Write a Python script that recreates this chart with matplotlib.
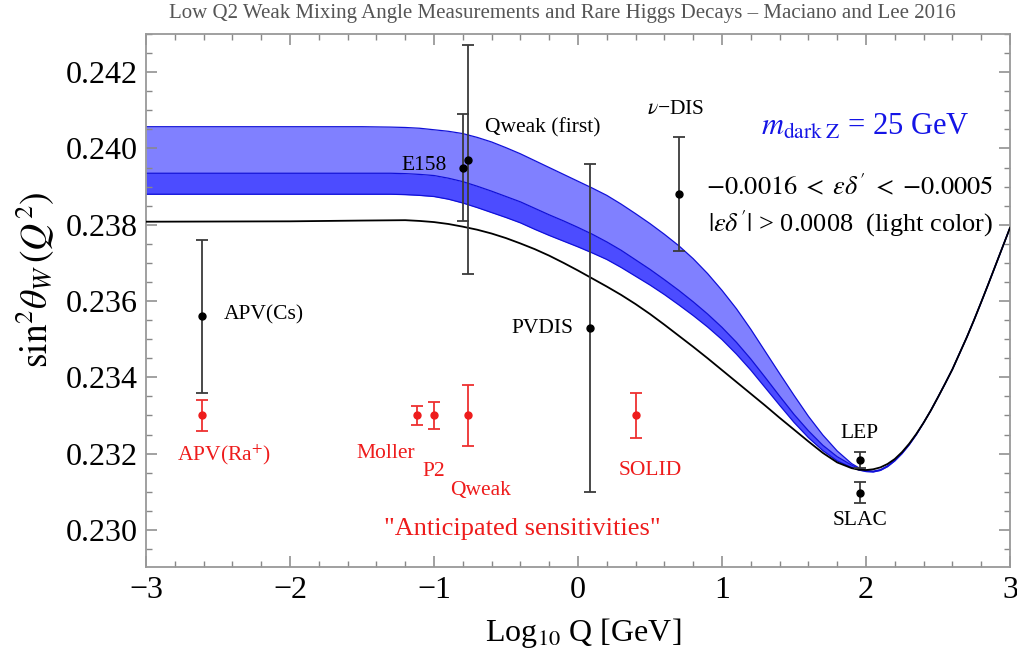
import matplotlib
matplotlib.use("Agg")
import matplotlib.pyplot as plt
from matplotlib.ticker import MultipleLocator, FormatStrFormatter

plt.rcParams["font.family"] = ["Liberation Serif", "DejaVu Serif"]
plt.rcParams["mathtext.fontset"] = "stix"

# Standard-model running curve (black)
sm_x = [-3.0, -2.0, -1.5, -1.2, -1.1, -1.0, -0.9, -0.8, -0.7, -0.6, -0.5, -0.4,
        -0.3, -0.2, -0.1, 0.0, 0.1, 0.2, 0.3, 0.4, 0.5, 0.6, 0.7, 0.8, 0.9, 1.0,
        1.1, 1.2, 1.3, 1.4, 1.5, 1.6, 1.7, 1.8, 1.9, 1.95, 2.0, 2.05, 2.1, 2.15,
        2.2, 2.25, 2.3, 2.35, 2.4, 2.45, 2.5, 2.55, 2.6, 2.65, 2.7, 2.75, 2.8,
        2.85, 2.9, 2.95, 3.0]
sm_y = [0.23808, 0.23809, 0.23811, 0.23812, 0.23810, 0.23807, 0.23802, 0.23795,
        0.23787, 0.23777, 0.23765, 0.23751, 0.23736, 0.23719, 0.23700, 0.23680,
        0.23659, 0.23638, 0.23616, 0.23592, 0.23566, 0.23538, 0.23509, 0.23480,
        0.23450, 0.23419, 0.23388, 0.23357, 0.23326, 0.23294, 0.23263, 0.23232,
        0.23202, 0.23177, 0.23162, 0.23158, 0.23157, 0.23159, 0.23164, 0.23173,
        0.23186, 0.23204, 0.23226, 0.23252, 0.23281, 0.23313, 0.23348, 0.23384,
        0.23421, 0.23463, 0.23505, 0.23550, 0.23597, 0.23645, 0.23694, 0.23743,
        0.23792]

# dark Z band (upper edge, middle line, lower edge); beyond x=2.35 it follows the black curve
band_x = [-3.0, -1.5, -1.3, -1.2, -1.1, -1.0, -0.9, -0.8, -0.7, -0.6, -0.5, -0.4,
          -0.3, -0.2, -0.1, 0.0, 0.1, 0.2, 0.3, 0.4, 0.5, 0.6, 0.7, 0.8, 0.9, 1.0,
          1.1, 1.2, 1.3, 1.4, 1.5, 1.6, 1.7, 1.8, 1.9, 1.95, 2.0, 2.05, 2.1, 2.15,
          2.2, 2.25, 2.3, 2.35]
band_top = [0.24057, 0.24057, 0.24056, 0.24055, 0.24053, 0.24049, 0.24045, 0.24039,
            0.24029, 0.24017, 0.24002, 0.23986, 0.23968, 0.23950, 0.23932, 0.23914,
            0.23896, 0.23877, 0.23854, 0.23829, 0.23803, 0.23775, 0.23745, 0.23711,
            0.23672, 0.23628, 0.23580, 0.23526, 0.23468, 0.23410, 0.23353, 0.23298,
            0.23249, 0.23207, 0.23174, 0.23163, 0.23156, 0.23154, 0.23158, 0.23168,
            0.23183, 0.23202, 0.23225, 0.23251]
band_mid = [0.23935, 0.23935, 0.23935, 0.23934, 0.23932, 0.23929, 0.23922, 0.23913,
            0.23901, 0.23888, 0.23874, 0.23860, 0.23843, 0.23826, 0.23810, 0.23793,
            0.23775, 0.23755, 0.23733, 0.23708, 0.23683, 0.23656, 0.23628, 0.23598,
            0.23566, 0.23531, 0.23492, 0.23448, 0.23400, 0.23351, 0.23303, 0.23260,
            0.23222, 0.23192, 0.23170, 0.23161, 0.23155, 0.23153, 0.23157, 0.23167,
            0.23182, 0.23201, 0.23224, 0.23251]
band_low = [0.23880, 0.23880, 0.23880, 0.23879, 0.23877, 0.23874, 0.23867, 0.23857,
            0.23845, 0.23832, 0.23819, 0.23805, 0.23788, 0.23772, 0.23757, 0.23742,
            0.23726, 0.23709, 0.23688, 0.23665, 0.23642, 0.23617, 0.23590, 0.23562,
            0.23532, 0.23499, 0.23461, 0.23419, 0.23373, 0.23327, 0.23282, 0.23242,
            0.23208, 0.23181, 0.23164, 0.23157, 0.23153, 0.23152, 0.23156, 0.23166,
            0.23181, 0.23200, 0.23223, 0.23250]

# measurements (black)
meas_names = ["APV(Cs)", "E158", "Qweak (first)", "PVDIS", "nu-DIS", "LEP", "SLAC"]
meas_x = [-2.613, -0.797, -0.766, 0.083, 0.704, 1.958, 1.958]
meas_y = [0.2356, 0.2395, 0.2397, 0.2353, 0.2388, 0.23183, 0.23098]
meas_err = [0.0020, 0.0014, 0.0030, 0.0043, 0.0015, 0.00021, 0.00027]

# anticipated sensitivities (red)
fut_names = ["APV(Ra+)", "Moller", "P2", "Qweak", "SOLID"]
fut_x = [-2.613, -1.12, -1.0, -0.766, 0.403]
fut_y = [0.2330, 0.2330, 0.2330, 0.2330, 0.2330]
fut_err = [0.0004, 0.00025, 0.00036, 0.0008, 0.0006]

# band continues along the SM curve after the Z pole
tail = [i for i, x in enumerate(sm_x) if x > band_x[-1]]
bx = band_x + [sm_x[i] for i in tail]
btop = band_top + [sm_y[i] for i in tail]
bmid = band_mid + [sm_y[i] for i in tail]
blow = band_low + [sm_y[i] for i in tail]

fig = plt.figure(figsize=(10.17, 6.58), dpi=100)
ax = fig.add_axes([0.1436, 0.1378, 0.8495, 0.8105])

ax.fill_between(bx, bmid, btop, color="#8080FF", lw=0, zorder=1)
ax.fill_between(bx, blow, bmid, color="#4C4CFF", lw=0, zorder=1)
for yy in (btop, bmid, blow):
    ax.plot(bx, yy, color="#1010D8", lw=0.9, zorder=2)
ax.plot(sm_x, sm_y, color="black", lw=1.3, zorder=3)

ax.errorbar(meas_x, meas_y, yerr=meas_err, fmt="o", color="black", ms=5,
            ecolor="#3a3a3a", elinewidth=1.3, capsize=4, capthick=1.3, zorder=5)
ax.errorbar(fut_x, fut_y, yerr=fut_err, fmt="o", color="#EE1C1C", ms=5,
            ecolor="#EE3030", elinewidth=1.3, capsize=4, capthick=1.3, zorder=5)

fs = 15.5
ax.text(-0.91, 0.23955, "E158", fontsize=fs, ha="right", va="center")
ax.text(-0.646, 0.24053, "Qweak (first)", fontsize=fs, ha="left", va="center")
ax.text(0.477, 0.24101, r"$\nu$" + "\u2212DIS", fontsize=fs, ha="left", va="center")
ax.text(-2.463, 0.23564, "APV(Cs)", fontsize=fs, ha="left", va="center")
ax.text(-0.03, 0.23529, "PVDIS", fontsize=fs, ha="right", va="center")
ax.text(1.958, 0.23252, "LEP", fontsize=fs, ha="center", va="center")
ax.text(1.958, 0.23024, "SLAC", fontsize=fs, ha="center", va="center")

red = "#EE1C1C"
ax.text(-2.458, 0.23197, r"APV(Ra$^{+}$)", fontsize=fs, color=red, ha="center", va="center")
ax.text(-1.132, 0.23201, "Moller", fontsize=fs, color=red, ha="right", va="center")
ax.text(-1.0, 0.23153, "P2", fontsize=fs, color=red, ha="center", va="center")
ax.text(-0.674, 0.23103, "Qweak", fontsize=fs, color=red, ha="center", va="center")
ax.text(0.503, 0.23155, "SOLID", fontsize=fs, color=red, ha="center", va="center")
ax.text(-0.389, 0.23002, '"Anticipated sensitivities"', fontsize=19, color=red,
        ha="center", va="center")

ax.text(1.993, 0.24057, r"$m_{\mathrm{dark}\;\mathrm{Z}}$ = 25 GeV", fontsize=22,
        color="#1414E6", ha="center", va="center")
ax.text(1.889, 0.23900, r"${-}0.0016\;<\;\varepsilon\delta'\;<\;{-}0.0005$",
        fontsize=19, ha="center", va="center")
ax.text(1.896, 0.23804, r"$|\varepsilon\delta'|$ > 0.0008  (light color)",
        fontsize=19, ha="center", va="center")

ax.set_xlim(-3, 3)
ax.set_ylim(0.22902, 0.2430)
ax.xaxis.set_major_locator(MultipleLocator(1))
ax.xaxis.set_minor_locator(MultipleLocator(0.2))
ax.yaxis.set_major_locator(MultipleLocator(0.002))
ax.yaxis.set_minor_locator(MultipleLocator(0.0005))
ax.yaxis.set_major_formatter(FormatStrFormatter("%.3f"))
ax.tick_params(which="both", direction="in", top=True, right=True, color="#888888")
ax.tick_params(which="major", length=8, width=1.1, labelsize=23, pad=6)
ax.tick_params(which="minor", length=4.5, width=1.0)
for s in ax.spines.values():
    s.set_color("#999999")
    s.set_linewidth(1.3)

fig.text(0.0344, 0.5745, r"$\mathrm{sin}^2\theta_W\,(Q^2)$", rotation=90, fontsize=27,
         ha="center", va="center")
fig.text(0.573, 0.038, r"Log$_{10}$ Q [GeV]", fontsize=23, ha="center", va="center")
fig.text(0.5526, 0.980, "Low Q2 Weak Mixing Angle Measurements and Rare Higgs Decays "
         "\u2013 Maciano and Lee 2016", fontsize=15, color="#555555",
         ha="center", va="center")

fig.savefig("out.png", dpi=100)
